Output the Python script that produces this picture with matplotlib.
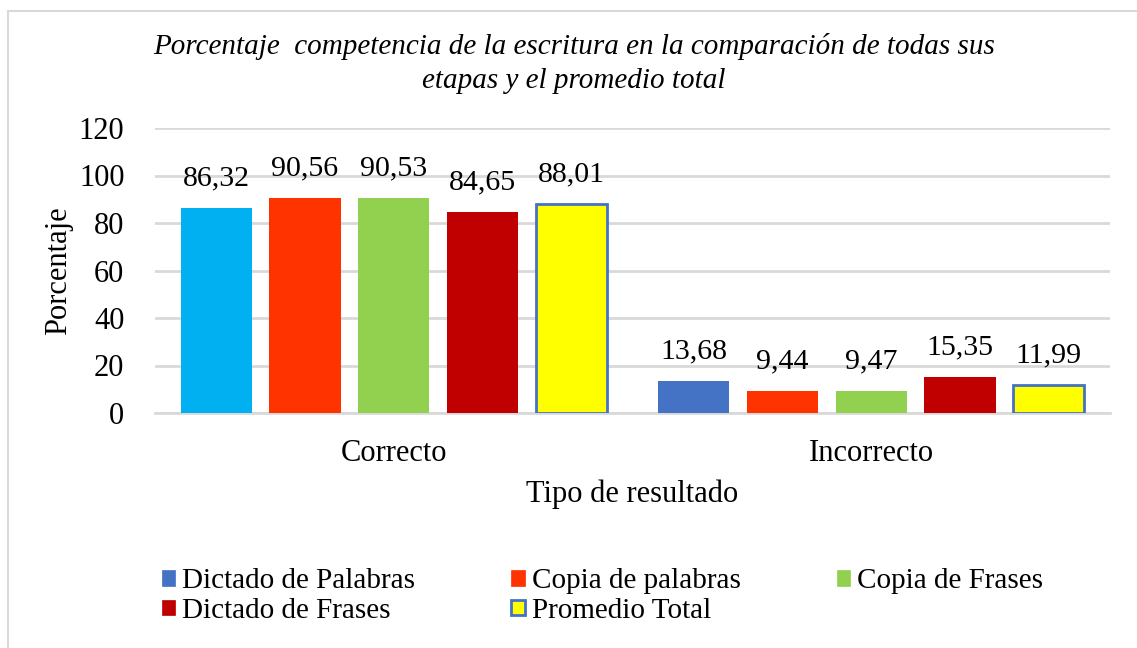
import matplotlib.pyplot as plt
from matplotlib.patches import Rectangle, Patch
import numpy as np

# Datos del gráfico
categorias = ["Correcto", "Incorrecto"]
series = ["Dictado de Palabras", "Copia de palabras", "Copia de Frases",
          "Dictado de Frases", "Promedio Total"]
dictado_palabras = [86.32, 13.68]
copia_palabras = [90.56, 9.44]
copia_frases = [90.53, 9.47]
dictado_frases = [84.65, 15.35]
promedio_total = [88.01, 11.99]
valores = [dictado_palabras, copia_palabras, copia_frases, dictado_frases, promedio_total]

colores = ["#4472C4", "#FF3300", "#92D050", "#C00000", "#FFFF00"]
bordes = ["none", "none", "none", "none", "#4472C4"]

plt.rcParams['font.family'] = ['Liberation Serif', 'DejaVu Serif']

fig = plt.figure(figsize=(11.37, 6.48), dpi=100)
ax = fig.add_axes([155 / 1137, 1 - 413 / 648, (1110 - 155) / 1137, (413 - 128) / 648])

# marco del gráfico
fig.patches.append(Rectangle((8 / 1137, -0.01), 1.02, 1 - 11 / 648 + 0.01,
                             transform=fig.transFigure, fill=False,
                             edgecolor="#D9D9D9", linewidth=1.5))

x = np.arange(len(categorias))
ancho = 0.149
paso = 0.186
for i, vals in enumerate(valores):
    pos = x + (i - 2) * paso
    cols = [colores[i]] * len(vals)
    if i == 0:
        cols[0] = "#00B0F0"  # punto con color distinto en Correcto
    lw = 2 if bordes[i] != "none" else 0
    ax.bar(pos, vals, width=ancho, color=cols, edgecolor=bordes[i], linewidth=lw, zorder=3)
    for p, v in zip(pos, vals):
        ax.annotate(f"{v:.2f}".replace(".", ","), (p, v), xytext=(0, 21),
                    textcoords="offset points", ha="center", va="center", fontsize=21.5)

ax.set_xlim(-0.5, 1.5)
ax.set_ylim(0, 120)
ax.set_yticks(range(0, 121, 20))
ax.set_xticks(x)
ax.set_xticklabels(categorias, fontsize=22)
ax.tick_params(axis="y", labelsize=22, length=0, pad=22)
ax.tick_params(axis="x", length=0, pad=19)
ax.grid(axis="y", color="#D9D9D9", linewidth=2, zorder=0)
for lado in ["top", "right", "left"]:
    ax.spines[lado].set_visible(False)
ax.spines["bottom"].set_color("#D9D9D9")
ax.spines["bottom"].set_linewidth(2)

ax.set_ylabel("Porcentaje", fontsize=22, labelpad=4)
ax.set_xlabel("Tipo de resultado", fontsize=22, labelpad=8)

fig.text(0.505, 1 - 47 / 648, "Porcentaje  competencia de la escritura en la comparación de todas sus",
         ha="center", va="center", fontsize=21, style="italic")
fig.text(0.505, 1 - 81 / 648, "etapas y el promedio total",
         ha="center", va="center", fontsize=21, style="italic")

# leyenda: orden para que las filas queden como en el original
handles = [Patch(facecolor=colores[i], edgecolor=bordes[i] if bordes[i] != "none" else colores[i],
                 linewidth=2 if bordes[i] != "none" else 0.5, label=series[i]) for i in range(5)]
orden = [0, 3, 1, 4, 2]
fig.legend([handles[i] for i in orden], [series[i] for i in orden],
           loc="center", bbox_to_anchor=(0.53, 1 - 596 / 648), ncol=3, frameon=False,
           fontsize=21, handlelength=0.45, handleheight=0.45, handletextpad=0.25,
           columnspacing=3.3, labelspacing=0.12, borderpad=0)

fig.savefig("out.png", dpi=100)
